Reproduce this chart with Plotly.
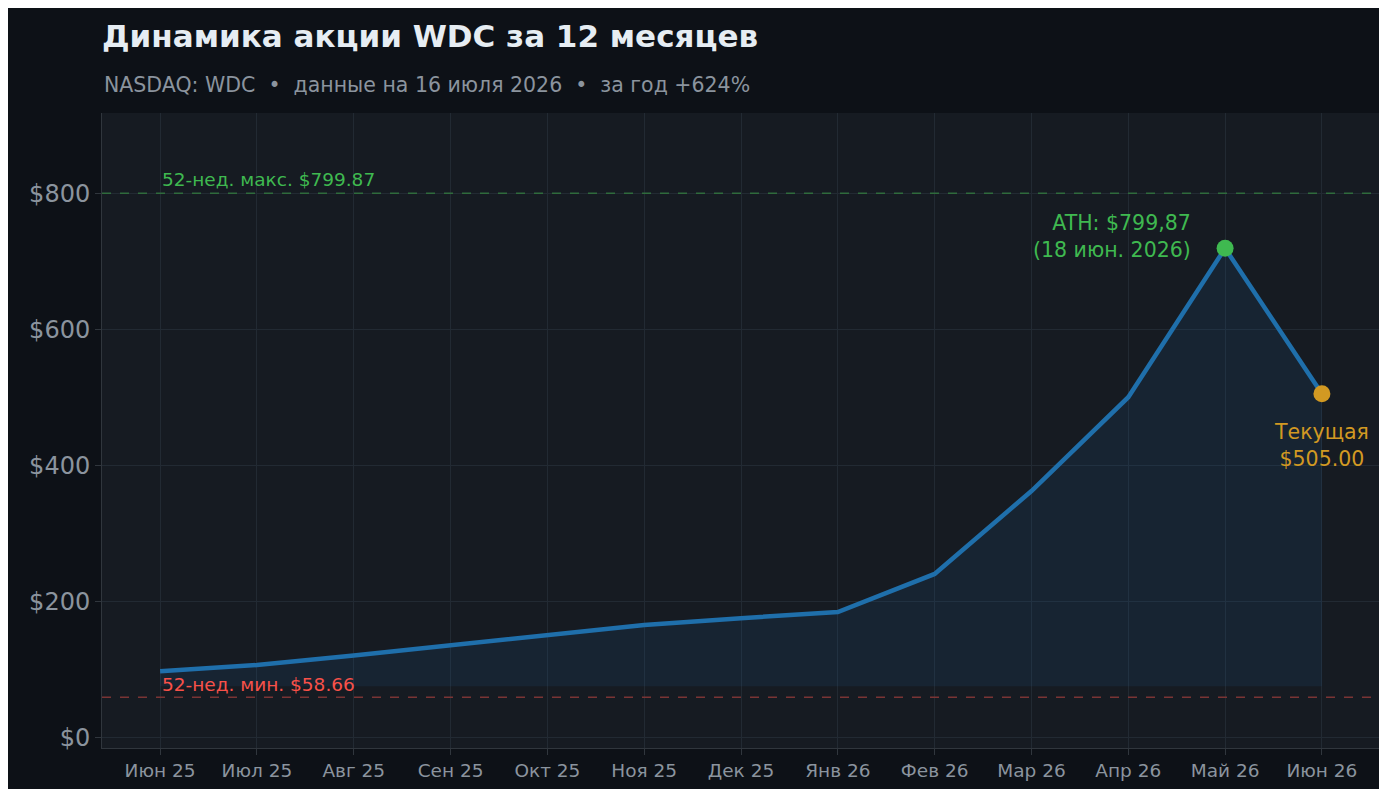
import plotly.graph_objects as go

months = ["Июн 25","Июл 25","Авг 25","Сен 25","Окт 25","Ноя 25","Дек 25",
          "Янв 26","Фев 26","Мар 26","Апр 26","Май 26","Июн 26"]
prices = [97, 106, 120, 135, 150, 165, 175, 184, 240, 362, 500, 719, 505]
high52 = 799.87
low52 = 58.66
fill_base = 75
yticks = [0, 200, 400, 600, 800]
ytick_labels = ["$0", "$200", "$400", "$600", "$800"]

x = list(range(len(months)))
fig = go.Figure()
fig.add_trace(go.Scatter(x=x, y=[fill_base]*len(x), mode="lines",
                         line=dict(width=0), hoverinfo="skip", showlegend=False))
fig.add_trace(go.Scatter(x=x, y=prices, mode="lines", fill="tonexty",
                         fillcolor="rgba(31,111,170,0.12)",
                         line=dict(color="#1f6fab", width=4.5), showlegend=False))
fig.add_trace(go.Scatter(x=[x[-2]], y=[prices[-2]], mode="markers",
                         marker=dict(color="#3fb950", size=17), showlegend=False))
fig.add_trace(go.Scatter(x=[x[-1]], y=[prices[-1]], mode="markers",
                         marker=dict(color="#d29922", size=17), showlegend=False))

fig.add_hline(y=high52, line=dict(color="#2f6b3c", width=1.5, dash="dash"))
fig.add_hline(y=low52, line=dict(color="#7a3434", width=1.5, dash="dash"))

font = "DejaVu Sans"
fig.add_annotation(x=0, y=high52, text=f"52-нед. макс. ${high52:.2f}", showarrow=False,
                   xanchor="left", yanchor="bottom", yshift=1,
                   font=dict(color="#3fb950", size=18.5, family=font))
fig.add_annotation(x=0, y=low52, text=f"52-нед. мин. ${low52:.2f}", showarrow=False,
                   xanchor="left", yanchor="bottom", yshift=0,
                   font=dict(color="#f85149", size=18.5, family=font))
fig.add_annotation(x=x[-2], y=prices[-2], text="ATH: $799,87<br>(18 июн. 2026)",
                   showarrow=False, xanchor="right", yanchor="middle", xshift=-32, yshift=12,
                   align="right", font=dict(color="#3fb950", size=20.5, family=font))
fig.add_annotation(x=x[-1], y=prices[-1], text="Текущая<br>$505.00",
                   showarrow=False, xanchor="center", yanchor="top", yshift=-24,
                   align="center", font=dict(color="#d29922", size=20.5, family=font))

fig.update_layout(
    width=1387, height=789,
    paper_bgcolor="#0d1117", plot_bgcolor="#161b22",
    margin=dict(l=94, r=15, t=105, b=49),
    font=dict(family=font, color="#8b949e"),
    title=dict(text="<b>Динамика акции WDC за 12 месяцев</b>", x=94/1387, xanchor="left",
               y=1-28/789, yanchor="middle", font=dict(size=31, color="#e6edf3", family=font)),
    showlegend=False,
)
fig.add_annotation(text="NASDAQ: WDC  •  данные на 16 июля 2026  •  за год +624%",
                   xref="paper", yref="paper", x=0, y=1+28/635, xanchor="left", yanchor="middle",
                   showarrow=False, font=dict(size=20.5, color="#8b949e", family=font))
fig.update_xaxes(range=[-0.6, 12.6], tickvals=x, ticktext=months, showgrid=True,
                 gridcolor="#222a33", zeroline=False, tickfont=dict(size=18.5, color="#8b949e"),
                 ticks="outside", tickcolor="#30363d", ticklen=6,
                 showline=True, linecolor="#30363d")
fig.update_yaxes(range=[-16, 918], tickvals=yticks, ticktext=ytick_labels, showgrid=True,
                 gridcolor="#222a33", zeroline=False, tickfont=dict(size=24, color="#8b949e"),
                 ticks="outside", tickcolor="#30363d", ticklen=6,
                 showline=True, linecolor="#30363d")
fig.write_html("out.html")
